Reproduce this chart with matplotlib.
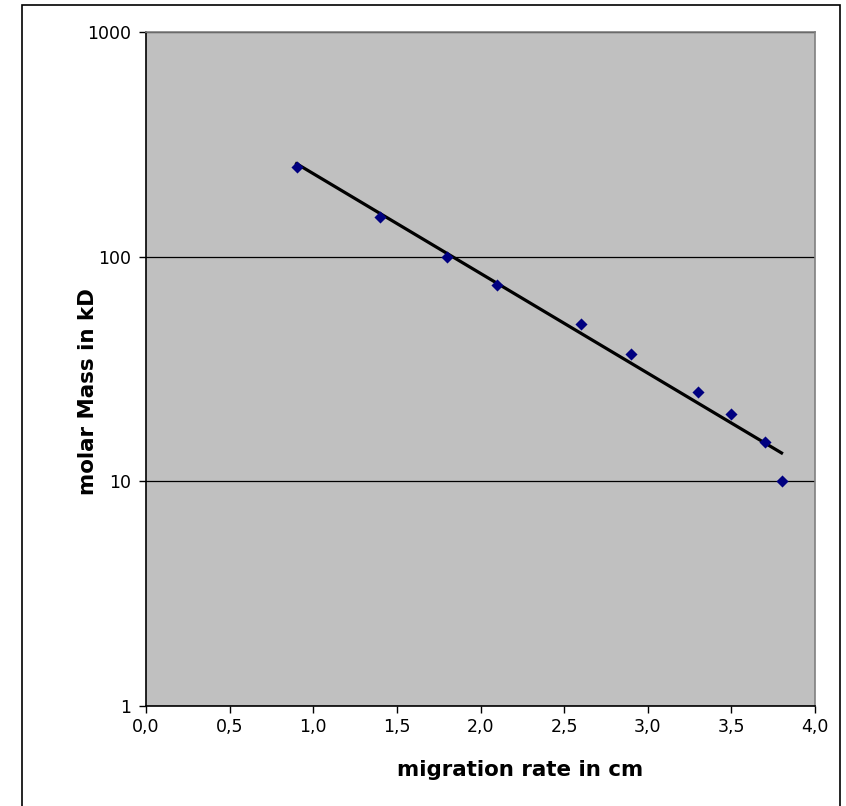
import matplotlib
matplotlib.use("Agg")
import matplotlib.pyplot as plt
import numpy as np
from matplotlib.patches import Rectangle
from matplotlib.ticker import FixedLocator, FuncFormatter, NullLocator

# migration distance (cm) and molar mass (kD) of the marker bands
migration_cm = [0.9, 1.4, 1.8, 2.1, 2.6, 2.9, 3.3, 3.5, 3.7, 3.8]
mass_kd = [250, 150, 100, 75, 50, 37, 25, 20, 15, 10]

x_ticks = [0.0, 0.5, 1.0, 1.5, 2.0, 2.5, 3.0, 3.5, 4.0]
y_ticks = [1, 10, 100, 1000]

W, H = 846, 806
plt.rcParams["font.family"] = ["DejaVu Sans"]
fig = plt.figure(figsize=(W / 100, H / 100), dpi=100)

# axes box in pixels: left 146, right 815, top 32, bottom 706
ax = fig.add_axes([146 / W, 1 - 706 / H, (815 - 146) / W, (706 - 32) / H])
ax.set_facecolor("#c0c0c0")

# exponential trendline (least squares on log10)
xs = np.array(migration_cm)
coef = np.polyfit(xs, np.log10(mass_kd), 1)
x_fit = np.linspace(xs.min(), xs.max(), 50)
ax.plot(x_fit, 10 ** np.polyval(coef, x_fit), color="black", lw=2.3, zorder=3)

ax.scatter(migration_cm, mass_kd, marker="D", s=38, color="#000080", zorder=4, linewidths=0)

ax.set_yscale("log")
ax.set_xlim(0, 4)
ax.set_ylim(1, 1000)
ax.yaxis.set_major_locator(FixedLocator(y_ticks))
ax.yaxis.set_minor_locator(NullLocator())
ax.yaxis.set_major_formatter(FuncFormatter(lambda v, p: f"{int(v)}"))
ax.set_xticks(x_ticks)
ax.xaxis.set_major_formatter(FuncFormatter(lambda v, p: f"{v:.1f}".replace(".", ",")))

ax.grid(axis="y", color="black", lw=0.9)
ax.set_axisbelow(True)
ax.tick_params(axis="both", direction="out", length=5, width=1, labelsize=12.5, pad=4, color="black")
ax.tick_params(axis="y", pad=6)

for side in ("top", "right"):
    ax.spines[side].set_color("#808080")
    ax.spines[side].set_linewidth(1.2)
for side in ("left", "bottom"):
    ax.spines[side].set_color("black")
    ax.spines[side].set_linewidth(1.2)

fig.text(520 / W, 1 - 770 / H, "migration rate in cm", ha="center", va="center",
         fontsize=15.4, fontweight="bold")
fig.text(88 / W, 1 - 392 / H, "molar Mass in kD", ha="center", va="center",
         rotation=90, fontsize=15.4, fontweight="bold")

# outer chart frame (open at the bottom edge of the image)
frame = Rectangle((22 / W, -0.02), (840 - 22) / W, 1 - 5 / H + 0.02, transform=fig.transFigure,
                  fill=False, edgecolor="black", lw=1.2)
fig.patches.append(frame)

fig.savefig("out.png", dpi=100)
